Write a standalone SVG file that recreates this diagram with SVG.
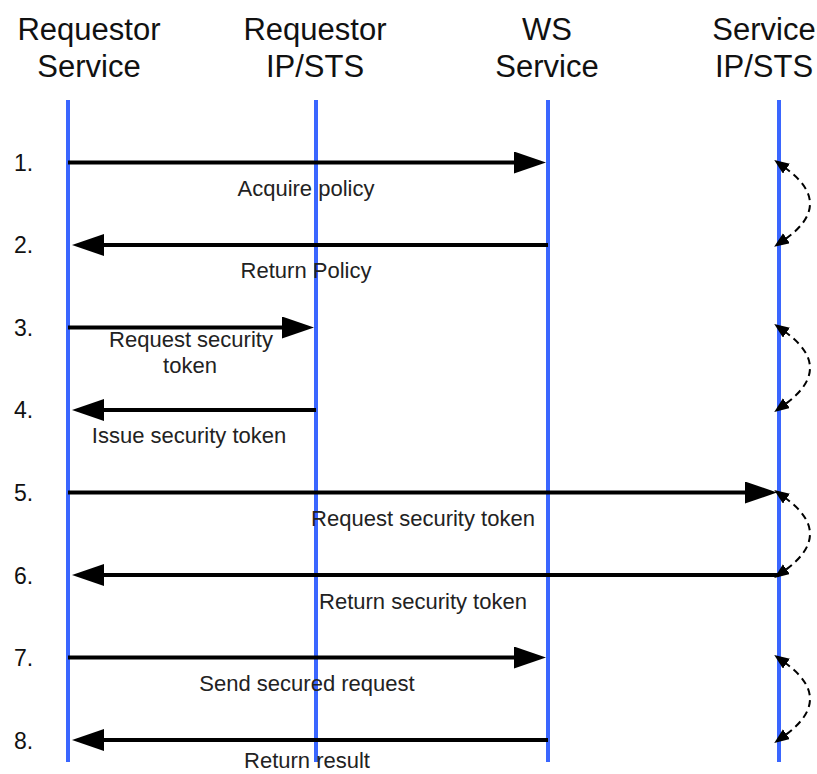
<svg xmlns="http://www.w3.org/2000/svg" width="817" height="774" viewBox="0 0 817 774">
<style>
.hdr{font-family:"Liberation Sans",Arial,sans-serif;font-size:31px;fill:#111;text-anchor:middle}
.num{font-family:"Liberation Sans",Arial,sans-serif;font-size:23px;fill:#111}
.lbl{font-family:"Liberation Sans",Arial,sans-serif;font-size:22px;fill:#222;text-anchor:middle}
.life{stroke:#3a66ff;stroke-width:4;fill:none}
.msg{stroke:#000;stroke-width:4;fill:none;marker-end:url(#ah)}
.loop{stroke:#000;stroke-width:2;stroke-dasharray:7 5;fill:none;marker-start:url(#sh);marker-end:url(#sh)}
</style>
<defs>
<marker id="ah" markerUnits="userSpaceOnUse" markerWidth="34" markerHeight="24" refX="4" refY="11" orient="auto" viewBox="0 0 34 24">
<path d="M0,0 L32,11 L0,22 z" fill="#000"/>
</marker>
<marker id="sh" markerUnits="userSpaceOnUse" markerWidth="16" markerHeight="14" refX="3" refY="6" orient="auto-start-reverse" viewBox="0 0 16 14">
<path d="M0,0 L15,6 L0,12 z" fill="#000"/>
</marker>
</defs>
<rect width="817" height="774" fill="#fff"/>
<g id="requestor-service">
<text class="hdr" x="89" y="40">Requestor</text>
<text class="hdr" x="89" y="77">Service</text>
<line class="life" x1="68" y1="100" x2="68" y2="762"/>
</g>
<g id="requestor-ipsts">
<text class="hdr" x="315" y="40">Requestor</text>
<text class="hdr" x="315" y="77">IP/STS</text>
<line class="life" x1="316" y1="100" x2="316" y2="762"/>
</g>
<g id="ws-service">
<text class="hdr" x="547" y="40">WS</text>
<text class="hdr" x="547" y="77">Service</text>
<line class="life" x1="548" y1="100" x2="548" y2="762"/>
</g>
<g id="service-ipsts">
<text class="hdr" x="764" y="40">Service</text>
<text class="hdr" x="764" y="77">IP/STS</text>
<line class="life" x1="779" y1="100" x2="779" y2="762"/>
</g>
<g id="steps">
<text class="num" x="14" y="171">1.</text>
<text class="num" x="14" y="253">2.</text>
<text class="num" x="14" y="336">3.</text>
<text class="num" x="14" y="418">4.</text>
<text class="num" x="14" y="501">5.</text>
<text class="num" x="14" y="584">6.</text>
<text class="num" x="14" y="666">7.</text>
<text class="num" x="14" y="749">8.</text>
</g>
<g id="connectors">
<line class="msg" x1="68" y1="162.5" x2="518" y2="162.5"/>
<line class="msg" x1="548" y1="245" x2="100" y2="245"/>
<line class="msg" x1="68" y1="327.5" x2="286" y2="327.5"/>
<line class="msg" x1="316" y1="410" x2="100" y2="410"/>
<line class="msg" x1="68" y1="492.5" x2="749" y2="492.5"/>
<line class="msg" x1="779" y1="575" x2="100" y2="575"/>
<line class="msg" x1="68" y1="657.5" x2="518" y2="657.5"/>
<line class="msg" x1="548" y1="740" x2="100" y2="740"/>
<path class="loop" d="M784,167 Q836,204 784,240"/>
<path class="loop" d="M784,331 Q836,368 784,405"/>
<path class="loop" d="M784,497 Q836,534 784,571"/>
<path class="loop" d="M784,662 Q836,699 784,736"/>
</g>
<g id="labels">
<text class="lbl" x="306" y="196">Acquire policy</text>
<text class="lbl" x="306" y="278">Return Policy</text>
<text class="lbl" x="191" y="347">Request security</text>
<text class="lbl" x="190" y="373">token</text>
<text class="lbl" x="189" y="443">Issue security token</text>
<text class="lbl" x="423" y="526">Request security token</text>
<text class="lbl" x="423" y="609">Return security token</text>
<text class="lbl" x="307" y="691">Send secured request</text>
<text class="lbl" x="307" y="768">Return result</text>
</g>
</svg>
